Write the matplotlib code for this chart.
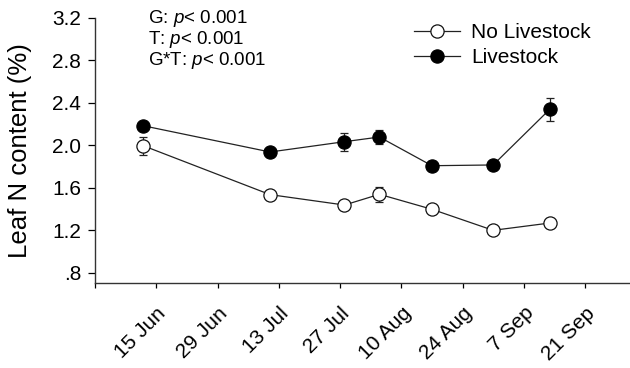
import matplotlib
matplotlib.use("Agg")
import matplotlib.pyplot as plt
from matplotlib.lines import Line2D
import datetime as dt

plt.rcParams["font.family"] = ["Liberation Sans", "DejaVu Sans"]
plt.rcParams["mathtext.fontset"] = "custom"
plt.rcParams["mathtext.it"] = "Liberation Sans:italic"
plt.rcParams["mathtext.rm"] = "Liberation Sans"

# sampling dates (day-month)
DATES = ["12-06", "11-07", "28-07", "05-08", "17-08", "31-08", "13-09"]
NO_LIVESTOCK = [1.995, 1.535, 1.437, 1.538, 1.397, 1.199, 1.268]
NO_LIVESTOCK_ERR = [0.085, 0.02, 0.02, 0.068, 0.02, 0.02, 0.035]
LIVESTOCK = [2.183, 1.936, 2.033, 2.077, 1.807, 1.814, 2.34]
LIVESTOCK_ERR = [0.03, 0.02, 0.085, 0.066, 0.045, 0.02, 0.108]

TICK_DATES = ["01-06", "15-06", "29-06", "13-07", "27-07", "10-08", "24-08", "07-09", "21-09"]
TICK_LABELS = ["", "15 Jun", "29 Jun", "13 Jul", "27 Jul", "10 Aug", "24 Aug", "7 Sep", "21 Sep"]
Y_TICKS = [0.8, 1.2, 1.6, 2.0, 2.4, 2.8, 3.2]
Y_LABELS = [".8", "1.2", "1.6", "2.0", "2.4", "2.8", "3.2"]
STATS = ["G: $p$< 0.001", "T: $p$< 0.001", "G*T: $p$< 0.001"]


def to_date(s):
    d, m = s.split("-")
    return dt.datetime(2010, int(m), int(d))


x = [to_date(s) for s in DATES]

fig = plt.figure(figsize=(6.3, 3.68), dpi=100)
ax = fig.add_axes([0.151, 0.23, 0.847, 0.722])

style = dict(color="#222222", lw=0.9, marker="o", ms=9.5, mew=0.9,
             capsize=3, elinewidth=0.9, capthick=0.9, zorder=3)
ax.errorbar(x, NO_LIVESTOCK, yerr=NO_LIVESTOCK_ERR, mfc="white", mec="#111111", **style)
ax.errorbar(x, LIVESTOCK, yerr=LIVESTOCK_ERR, mfc="black", mec="black", **style)

ax.set_xlim(to_date("01-06"), to_date("01-10"))
ax.set_ylim(0.7, 3.2)
ax.set_xticks([to_date(s) for s in TICK_DATES])
ax.set_xticklabels(TICK_LABELS, rotation=45, ha="right", va="top",
                   rotation_mode="anchor", fontsize=15)
ax.set_yticks(Y_TICKS)
ax.set_yticklabels(Y_LABELS, fontsize=15)
ax.set_ylabel("Leaf N content (%)", fontsize=18.5)
ax.yaxis.set_label_coords(-0.118, 0.5)

for s in ["top", "right"]:
    ax.spines[s].set_visible(False)
for s in ["left", "bottom"]:
    ax.spines[s].set_linewidth(1.0)
    ax.spines[s].set_color("#333333")
ax.tick_params(axis="y", length=5, width=0.9, pad=5)
ax.tick_params(axis="x", length=3.5, width=0.9, pad=11)

for i, t in enumerate(STATS):
    ax.text(0.10, 0.995 - i * 0.079, t, transform=ax.transAxes, fontsize=13.5,
            ha="left", va="center")

handles = [
    Line2D([], [], color="#222222", lw=0.9, marker="o", ms=9.5, mfc="white",
           mec="#111111", mew=0.9, label="No Livestock"),
    Line2D([], [], color="#222222", lw=0.9, marker="o", ms=9.5, mfc="black",
           mec="black", mew=0.9, label="Livestock"),
]
fig.legend(handles=handles, loc="upper left", bbox_to_anchor=(0.657, 0.937),
           bbox_transform=fig.transFigure, frameon=False, fontsize=15,
           handlelength=2.2, handletextpad=0.55, labelspacing=0.3,
           borderpad=0, borderaxespad=0)

fig.savefig("out.png", dpi=100)
